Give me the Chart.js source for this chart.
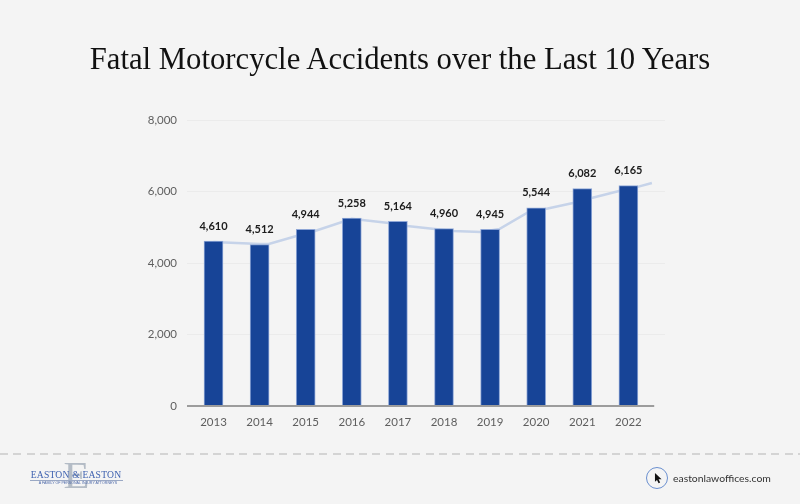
<!DOCTYPE html>
<html>
<head>
<meta charset="utf-8">
<title>Fatal Motorcycle Accidents over the Last 10 Years</title>
<script src="https://cdn.jsdelivr.net/npm/chart.js@4"></script>
<style>
    html, body { margin: 0; padding: 0; background: #f4f4f4; }
    .page { position: relative; width: 800px; height: 504px; overflow: hidden; background: #f4f4f4; }
    .page canvas { position: absolute; left: 0; top: 0; }
    .title {
        position: absolute; left: 0; top: 38px; width: 800px; margin: 0; text-align: center;
        font: 400 30.7px/42px "Liberation Serif", serif; color: #111;
    }
    .divider {
        position: absolute; left: 0; top: 453px; width: 800px; height: 2px;
        background: repeating-linear-gradient(90deg, #d4d4d4 0 8px, transparent 8px 13.3px);
    }
    .logo-e {
        position: absolute; left: 60px; top: 457px; width: 33px; text-align: center;
        font: 400 37px/37px "Liberation Serif", serif; color: #b4bcc6;
        transform: scaleX(1.15);
    }
    .logo-name {
        position: absolute; left: 16px; top: 469px; width: 120px; text-align: center;
        font: 400 9.6px/12px "Liberation Serif", serif; letter-spacing: 0.2px; color: #3f62b0; white-space: nowrap;
    }
    .logo-rule { position: absolute; left: 30px; top: 480px; width: 93px; height: 1px; background: #9aa8c4; }
    .logo-sub {
        position: absolute; left: 18px; top: 481px; width: 120px; text-align: center;
        font: 400 3.6px/5px "Liberation Sans", sans-serif; color: #4a66a8; white-space: nowrap;
    }
    .site-icon {
        position: absolute; left: 646px; top: 467px; width: 20px; height: 20px;
        border: 1px solid #6a8fcf; border-radius: 50%;
    }
    .site-icon svg { position: absolute; left: 7px; top: 5px; }
    .site-text {
        position: absolute; left: 673px; top: 470px;
        font: 400 10.4px/16px Lato, sans-serif; color: #333;
    }
</style>
</head>
<body>
<div class="page">
    <canvas id="chart" width="800" height="504"></canvas>
    <h1 class="title">Fatal Motorcycle Accidents over the Last 10 Years</h1>
    <div class="divider"></div>
    <div class="logo-e">E</div>
    <div class="logo-name">EASTON &amp; EASTON</div>
    <div class="logo-rule"></div>
    <div class="logo-sub">A FAMILY OF PERSONAL INJURY ATTORNEYS</div>
    <div class="site-icon">
        <svg width="9" height="11" viewBox="0 0 11 14"><path d="M1 0 L1 11 L3.6 8.8 L5.6 13 L7.6 12 L5.6 8 L9.4 7.8 Z" fill="#111"/></svg>
    </div>
    <div class="site-text">eastonlawoffices.com</div>
</div>
<script>
const years = ["2013", "2014", "2015", "2016", "2017", "2018", "2019", "2020", "2021", "2022"];
const accidents = [4610, 4512, 4944, 5258, 5164, 4960, 4945, 5544, 6082, 6165];
const yTicks = [0, 2000, 4000, 6000, 8000];

// pale line behind the bars (position in bar units, value)
const trendPositions = [0, 1, 1.2, 1.8, 2.2, 3, 3.8, 4.2, 4.8, 5.2, 5.8, 6.2, 6.8, 7.2, 7.8, 8.2, 8.8, 9.2, 9.51];
const trendValues = [4590, 4530, 4530, 4755, 4895, 5235, 5119, 5035, 4951, 4895, 4867, 4951, 5399, 5510, 5678, 5818, 6014, 6130, 6238];

// axis line stops short of the grid lines on the right
const baselinePositions = [-0.575, 9.56];
const baselineValues = [0, 0];

/*
    ----------> VALUE LABELS <----------
*/

const valueLabels = {
    id: "valueLabels",
    afterDatasetsDraw(chart) {
        const ctx = chart.ctx;
        const bars = chart.getDatasetMeta(0).data;

        ctx.save();
        ctx.font = "700 11px Lato, sans-serif";
        ctx.fillStyle = "#1c1c1c";
        ctx.textAlign = "center";
        ctx.textBaseline = "middle";
        bars.forEach((bar, index) => {
            ctx.fillText(accidents[index].toLocaleString("en-US"), bar.x, bar.y - 15);
        });
        ctx.restore();
    },
};

/*
    ----------> CHART <----------
*/

new Chart(document.getElementById("chart"), {
    type: "bar",
    data: {
        datasets: [
            {
                type: "bar",
                order: 1,
                data: accidents.map((value, index) => ({ x: index, y: value })),
                backgroundColor: "#174497",
                borderColor: "#8ea6d6",
                borderWidth: 1,
                barThickness: 19,
            },
            {
                type: "line",
                order: 2,
                data: trendValues.map((value, index) => ({ x: trendPositions[index], y: value })),
                borderColor: "#c6d3e9",
                borderWidth: 2.5,
                pointRadius: 0,
                tension: 0,
            },
            {
                type: "line",
                order: 0,
                data: baselineValues.map((value, index) => ({ x: baselinePositions[index], y: value })),
                borderColor: "#9c9c9c",
                borderWidth: 2,
                pointRadius: 0,
                clip: false,
            },
        ],
    },
    options: {
        responsive: false,
        animation: false,
        layout: { padding: { top: 120, right: 135, bottom: 0, left: 0 } },
        plugins: { legend: { display: false }, tooltip: { enabled: false } },
        scales: {
            x: {
                type: "linear",
                offset: false,
                min: -0.575,
                max: 9.794,
                afterBuildTicks: scale => {
                    scale.ticks = years.map((year, index) => ({ value: index }));
                },
                afterFit: scale => { scale.height = 98; },
                grid: { display: false },
                border: { display: false },
                ticks: {
                    autoSkip: false,
                    maxRotation: 0,
                    padding: 1,
                    color: "#5e5e5e",
                    font: { family: "Lato", size: 11.5 },
                    callback: value => years[value],
                },
            },
            y: {
                min: 0,
                max: 8000,
                afterBuildTicks: scale => {
                    scale.ticks = yTicks.map(value => ({ value }));
                },
                afterFit: scale => { scale.width = 187; },
                grid: {
                    color: context => context.tick.value == 0 ? "transparent" : "#ebebeb",
                    lineWidth: 1,
                    drawTicks: false,
                },
                border: { display: false },
                ticks: {
                    padding: 10,
                    color: "#5e5e5e",
                    font: { family: "Lato", size: 11.5 },
                    callback: value => value.toLocaleString("en-US"),
                },
            },
        },
    },
    plugins: [valueLabels],
});
</script>
</body>
</html>
